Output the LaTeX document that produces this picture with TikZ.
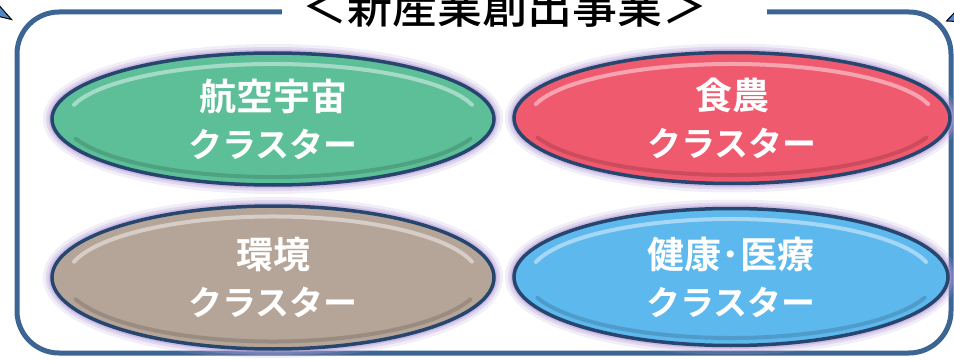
\documentclass[tikz,border=0pt]{standalone}
\usepackage{fontspec}
\newfontfamily\jp{Noto Sans CJK JP}[BoldFont={Noto Sans CJK JP Bold}]
\newfontfamily\jpm{Noto Sans CJK JP Medium}
\usetikzlibrary{shapes.geometric}
\definecolor{framec}{HTML}{3D6594}
\definecolor{outl}{HTML}{26466E}
\definecolor{glow}{HTML}{B9A2DC}
\definecolor{cgreen}{HTML}{5CBF98}
\definecolor{cred}{HTML}{F05A6E}
\definecolor{ctan}{HTML}{B5A598}
\definecolor{cblue}{HTML}{5DB8EE}
\definecolor{arrowfill}{HTML}{4F86C6}
\newcommand{\kat}[1]{{\fontsize{34}{47}\selectfont #1}}
\tikzset{
  cluster/.style={ellipse, draw=outl, line width=3.5pt, inner sep=0pt,
    text=white, font=\jp\bfseries\fontsize{37}{47}\selectfont, align=center,
    preaction={draw=glow, line width=18pt, draw opacity=0.18},
    preaction={draw=glow, line width=12pt, draw opacity=0.3},
    preaction={draw=glow, line width=7pt, draw opacity=0.5}},
  hl/.style={line width=4pt, draw opacity=0.45, line cap=round},
  tip/.style={fill=arrowfill, draw=black, line width=1pt, line join=miter}
}
\begin{document}
\begin{tikzpicture}[x=1pt,y=-1pt]
\useasboundingbox (0,0) rectangle (954,361);
\fill[white] (0,0) rectangle (954,361);
% frame
\draw[framec, line width=5pt, rounded corners=42pt] (17,12) rectangle (951,353);
% small arrow tips at the corners
\draw[tip] (-3,3) -- (11.5,19.5) -- (-3,16) -- cycle;
\draw[tip] (958,9) -- (946.5,21) -- (958,21.5) -- cycle;
% title
\fill[white] (282,0) rectangle (767,43);
\node[anchor=base, font=\jpm\fontsize{45}{50}\selectfont, text=black, inner sep=0pt] (title) at (505,24) {＜新産業創出事業＞};
% clusters
\node[cluster, fill=cgreen, minimum width=442pt, minimum height=132pt] (aero) at (273,119) {航空宇宙\\\kat{クラスター}};
\node[cluster, fill=cred, minimum width=436pt, minimum height=131pt] (food) at (732,118) {食農\\\kat{クラスター}};
\node[cluster, fill=ctan, minimum width=442pt, minimum height=143pt] (env) at (273,277.5) {環境\\\kat{クラスター}};
\node[cluster, fill=cblue, minimum width=434pt, minimum height=137pt] (health) at (731,277) {健康･医療\\\kat{クラスター}};
% bevel highlights
\draw[hl, white] (273,119) ++(195:206 and 55) arc[start angle=195, end angle=345, x radius=206, y radius=55];
\draw[hl, white] (732,118) ++(195:203 and 54) arc[start angle=195, end angle=345, x radius=203, y radius=54];
\draw[hl, white] (273,277.5) ++(195:206 and 61) arc[start angle=195, end angle=345, x radius=206, y radius=61];
\draw[hl, white] (731,277) ++(195:202 and 58) arc[start angle=195, end angle=345, x radius=202, y radius=58];
\draw[hl, black, draw opacity=0.15] (273,119) ++(20:210 and 58) arc[start angle=20, end angle=160, x radius=210, y radius=58];
\draw[hl, black, draw opacity=0.15] (732,118) ++(20:207 and 57) arc[start angle=20, end angle=160, x radius=207, y radius=57];
\draw[hl, black, draw opacity=0.15] (273,277.5) ++(20:210 and 64) arc[start angle=20, end angle=160, x radius=210, y radius=64];
\draw[hl, black, draw opacity=0.15] (731,277) ++(20:206 and 61) arc[start angle=20, end angle=160, x radius=206, y radius=61];
\end{tikzpicture}
\end{document}
